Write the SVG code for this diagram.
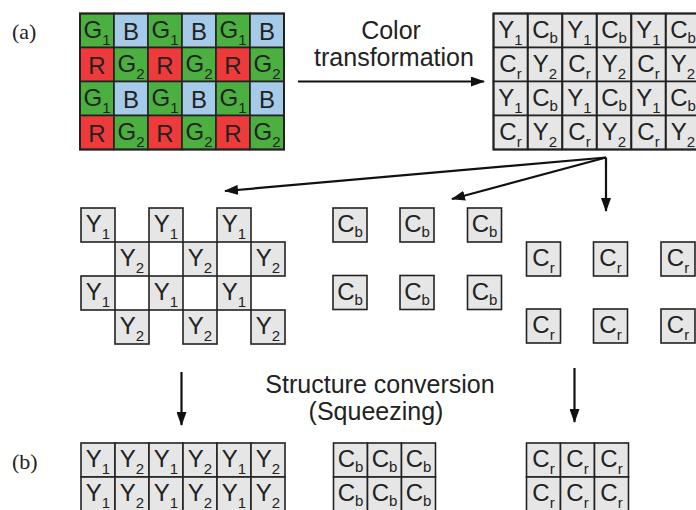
<svg xmlns="http://www.w3.org/2000/svg" width="696" height="510" viewBox="0 0 696 510">
<defs>
<style>
.c{stroke:#222;stroke-width:1.6}
.g{fill:#4cb040}.r{fill:#ee3a3a}.b{fill:#a6cbe8}.w{fill:#e6e6e6}
.t{font-family:"Liberation Sans",Arial,sans-serif;font-size:24px;fill:#222;text-anchor:middle}
.s{font-size:15px}
.lab{font-family:"Liberation Sans",Arial,sans-serif;font-size:25px;fill:#222;text-anchor:middle}
.pl{font-family:"Liberation Serif","Times New Roman",serif;font-size:22px;fill:#222}
.ar{stroke:#111;stroke-width:2.2;fill:none;marker-end:url(#ah)}
.frame{fill:none;stroke:#222;stroke-width:2}
</style>
<marker id="ah" viewBox="0 0 14 10" refX="13" refY="5" markerWidth="14" markerHeight="10" markerUnits="userSpaceOnUse" orient="auto">
<path d="M0,0 L14,5 L0,10 Z" fill="#111"/>
</marker>
<g id="G1"><rect class="c g" width="34" height="34"/><text class="t" x="17" y="24">G<tspan class="s" dy="7">1</tspan></text></g>
<g id="G2"><rect class="c g" width="34" height="34"/><text class="t" x="17" y="24">G<tspan class="s" dy="7">2</tspan></text></g>
<g id="Rc"><rect class="c r" width="34" height="34"/><text class="t" x="17" y="26">R</text></g>
<g id="Bc"><rect class="c b" width="34" height="34"/><text class="t" x="17" y="26">B</text></g>
<g id="Y1"><rect class="c w" width="34" height="34"/><text class="t" x="17" y="24">Y<tspan class="s" dy="7">1</tspan></text></g>
<g id="Y2"><rect class="c w" width="34" height="34"/><text class="t" x="17" y="24">Y<tspan class="s" dy="7">2</tspan></text></g>
<g id="Cb"><rect class="c w" width="34" height="34"/><text class="t" x="17" y="24">C<tspan class="s" dy="5">b</tspan></text></g>
<g id="Cr"><rect class="c w" width="34" height="34"/><text class="t" x="17" y="24">C<tspan class="s" dy="7">r</tspan></text></g>
</defs>
<rect width="696" height="510" fill="#fff"/>

<text class="pl" x="12" y="39">(a)</text>
<text class="pl" x="12" y="469">(b)</text>

<g id="bayer">
<use href="#G1" x="80" y="13.5"/><use href="#Bc" x="114" y="13.5"/><use href="#G1" x="148" y="13.5"/><use href="#Bc" x="182" y="13.5"/><use href="#G1" x="216" y="13.5"/><use href="#Bc" x="250" y="13.5"/>
<use href="#Rc" x="80" y="47.5"/><use href="#G2" x="114" y="47.5"/><use href="#Rc" x="148" y="47.5"/><use href="#G2" x="182" y="47.5"/><use href="#Rc" x="216" y="47.5"/><use href="#G2" x="250" y="47.5"/>
<use href="#G1" x="80" y="81.5"/><use href="#Bc" x="114" y="81.5"/><use href="#G1" x="148" y="81.5"/><use href="#Bc" x="182" y="81.5"/><use href="#G1" x="216" y="81.5"/><use href="#Bc" x="250" y="81.5"/>
<use href="#Rc" x="80" y="115.5"/><use href="#G2" x="114" y="115.5"/><use href="#Rc" x="148" y="115.5"/><use href="#G2" x="182" y="115.5"/><use href="#Rc" x="216" y="115.5"/><use href="#G2" x="250" y="115.5"/>
<rect class="frame" x="80" y="13.5" width="204" height="136"/>
</g>

<g id="ycc">
<use href="#Y1" x="493.5" y="13.5"/><use href="#Cb" x="528" y="13.5"/><use href="#Y1" x="562.5" y="13.5"/><use href="#Cb" x="597" y="13.5"/><use href="#Y1" x="631.5" y="13.5"/><use href="#Cb" x="666" y="13.5"/>
<use href="#Cr" x="493.5" y="47.5"/><use href="#Y2" x="528" y="47.5"/><use href="#Cr" x="562.5" y="47.5"/><use href="#Y2" x="597" y="47.5"/><use href="#Cr" x="631.5" y="47.5"/><use href="#Y2" x="666" y="47.5"/>
<use href="#Y1" x="493.5" y="81.5"/><use href="#Cb" x="528" y="81.5"/><use href="#Y1" x="562.5" y="81.5"/><use href="#Cb" x="597" y="81.5"/><use href="#Y1" x="631.5" y="81.5"/><use href="#Cb" x="666" y="81.5"/>
<use href="#Cr" x="493.5" y="115.5"/><use href="#Y2" x="528" y="115.5"/><use href="#Cr" x="562.5" y="115.5"/><use href="#Y2" x="597" y="115.5"/><use href="#Cr" x="631.5" y="115.5"/><use href="#Y2" x="666" y="115.5"/>
<rect class="frame" x="493.5" y="13.5" width="207" height="136"/>
</g>

<g id="ysplit">
<use href="#Y1" x="81" y="208"/><use href="#Y1" x="149" y="208"/><use href="#Y1" x="217" y="208"/>
<use href="#Y2" x="115" y="242"/><use href="#Y2" x="183" y="242"/><use href="#Y2" x="251" y="242"/>
<use href="#Y1" x="81" y="276"/><use href="#Y1" x="149" y="276"/><use href="#Y1" x="217" y="276"/>
<use href="#Y2" x="115" y="310"/><use href="#Y2" x="183" y="310"/><use href="#Y2" x="251" y="310"/>
</g>

<g id="cbsplit">
<use href="#Cb" x="333" y="208"/><use href="#Cb" x="400" y="208"/><use href="#Cb" x="467.5" y="208"/>
<use href="#Cb" x="333" y="275.5"/><use href="#Cb" x="400" y="275.5"/><use href="#Cb" x="467.5" y="275.5"/>
</g>

<g id="crsplit">
<use href="#Cr" x="526.5" y="242"/><use href="#Cr" x="593.5" y="242"/><use href="#Cr" x="661" y="242"/>
<use href="#Cr" x="526.5" y="309"/><use href="#Cr" x="593.5" y="309"/><use href="#Cr" x="661" y="309"/>
</g>

<g id="ysq">
<use href="#Y1" x="81" y="443"/><use href="#Y2" x="115" y="443"/><use href="#Y1" x="149" y="443"/><use href="#Y2" x="183" y="443"/><use href="#Y1" x="217" y="443"/><use href="#Y2" x="251" y="443"/>
<use href="#Y1" x="81" y="477"/><use href="#Y2" x="115" y="477"/><use href="#Y1" x="149" y="477"/><use href="#Y2" x="183" y="477"/><use href="#Y1" x="217" y="477"/><use href="#Y2" x="251" y="477"/>
</g>

<g id="cbsq">
<use href="#Cb" x="333.5" y="443"/><use href="#Cb" x="367.5" y="443"/><use href="#Cb" x="401.5" y="443"/>
<use href="#Cb" x="333.5" y="477"/><use href="#Cb" x="367.5" y="477"/><use href="#Cb" x="401.5" y="477"/>
</g>

<g id="crsq">
<use href="#Cr" x="526.5" y="443"/><use href="#Cr" x="560.5" y="443"/><use href="#Cr" x="594.5" y="443"/>
<use href="#Cr" x="526.5" y="477"/><use href="#Cr" x="560.5" y="477"/><use href="#Cr" x="594.5" y="477"/>
</g>

<g id="labels">
<text class="lab" x="391" y="39">Color</text>
<text class="lab" x="394" y="66">transformation</text>
<text class="lab" x="380" y="393">Structure conversion</text>
<text class="lab" x="376" y="420">(Squeezing)</text>
</g>

<g id="connectors">
<line class="ar" x1="298" y1="81.5" x2="484" y2="81.5"/>
<line class="ar" x1="606" y1="157.5" x2="225" y2="191"/>
<line class="ar" x1="606" y1="157.5" x2="452" y2="199"/>
<line class="ar" x1="606" y1="157.5" x2="606" y2="211"/>
<line class="ar" x1="181.5" y1="372" x2="181.5" y2="425"/>
<line class="ar" x1="574.5" y1="368" x2="574.5" y2="422"/>
</g>
</svg>
